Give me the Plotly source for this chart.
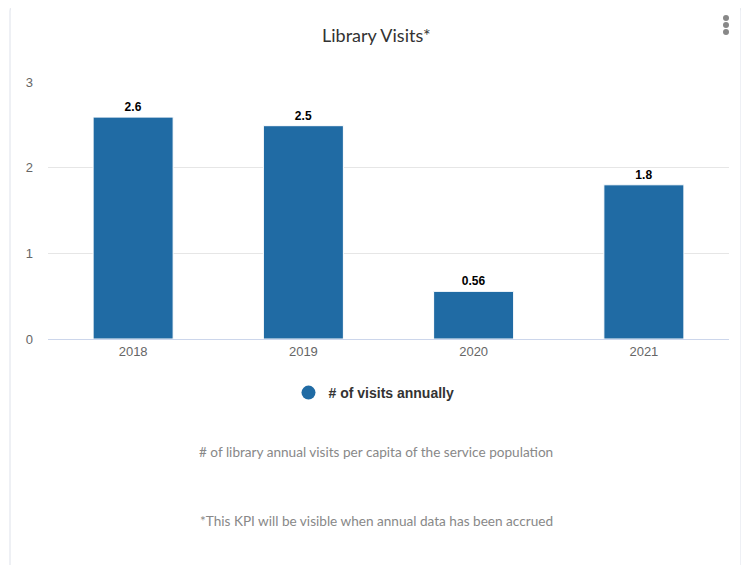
import plotly.graph_objects as go

years = ["2018", "2019", "2020", "2021"]
visits = [2.59, 2.49, 0.556, 1.8]
series_name = "# of visits annually"
title_text = "Library Visits*"
note1 = "# of library annual visits per capita of the service population"
note2 = "*This KPI will be visible when annual data has been accrued"
y_ticks = [0, 1, 2, 3]

OFF = 8  # default page body margin
W, H = 749 - OFF, 565 - OFF
L, R, T, B = 48 - OFF, 729 - OFF, 82 - OFF, 339 - OFF
pw, ph = R - L, B - T

def px(x):
    return (x - OFF - L) / pw

def py(y):
    return (B - (y - OFF)) / ph

BLUE = "#206ba4"
AX_FONT = "Liberation Sans, Arial"

fig = go.Figure()
fig.add_trace(go.Bar(
    x=years, y=visits, width=0.47,
    marker=dict(color=BLUE, line=dict(color="#ffffff", width=1)),
    text=visits, texttemplate="%{y:.2r}", textposition="outside",
    textfont=dict(family=AX_FONT, size=12, color="#000000", weight="bold"),
    cliponaxis=False, showlegend=False, hoverinfo="x+y",
))
fig.add_trace(go.Scatter(
    x=[None], y=[None], mode="markers", name=series_name,
    marker=dict(symbol="circle", size=14, color=BLUE),
    showlegend=True,
))

# card path with rounded corners (reference pixel coords)
x0, x1, y0, y1, r = 10, 741, 5, 600, 6
path = (f"M {px(x0+r)},{py(y0)} L {px(x1-r)},{py(y0)} "
        f"Q {px(x1)},{py(y0)} {px(x1)},{py(y0+r)} L {px(x1)},{py(y1)} "
        f"L {px(x0)},{py(y1)} L {px(x0)},{py(y0+r)} "
        f"Q {px(x0)},{py(y0)} {px(x0+r)},{py(y0)} Z")
shapes = [dict(type="path", xref="paper", yref="paper", path=path,
               line=dict(color="#dde1ea", width=1), fillcolor="rgba(0,0,0,0)", layer="below")]
for cy in (18, 25, 32):
    shapes.append(dict(type="circle", xref="paper", yref="paper",
                       x0=px(723), x1=px(729), y0=py(cy - 3), y1=py(cy + 3),
                       fillcolor="#888888", line=dict(width=0)))

annotations = [
    dict(text=title_text, xref="paper", yref="paper", x=px(376), y=py(35),
         showarrow=False, xanchor="center", yanchor="middle",
         font=dict(family="Lato", size=18, color="#333333")),
    dict(text=note1, xref="paper", yref="paper", x=px(376), y=py(452),
         showarrow=False, xanchor="center", yanchor="middle",
         font=dict(family="Lato", size=13.6, color="#888888")),
    dict(text=note2, xref="paper", yref="paper", x=px(376), y=py(521),
         showarrow=False, xanchor="center", yanchor="middle",
         font=dict(family="Lato", size=13.6, color="#888888")),
]

fig.update_layout(
    width=W, height=H,
    margin=dict(l=L, r=W - R, t=T, b=H - B, pad=0),
    paper_bgcolor="#ffffff", plot_bgcolor="#ffffff",
    shapes=shapes, annotations=annotations,
    legend=dict(orientation="h", x=px(374), y=py(393), xanchor="center", yanchor="middle",
                font=dict(family=AX_FONT, size=14, color="#333333", weight="bold"),
                itemsizing="trace", itemwidth=30),
    xaxis=dict(type="category", showgrid=False, showline=True, linecolor="#ccd6eb",
               linewidth=1, ticks="", tickfont=dict(family=AX_FONT, size=13, color="#666666"),
               fixedrange=True),
    yaxis=dict(range=[0, 3], tickvals=y_ticks, showgrid=True, gridcolor="#e6e6e6",
               zeroline=False, showline=False, ticks="", ticklabelstandoff=14,
               tickfont=dict(family=AX_FONT, size=13, color="#666666"),
               fixedrange=True),
    font=dict(family=AX_FONT),
)

fig.write_html("out.html")
